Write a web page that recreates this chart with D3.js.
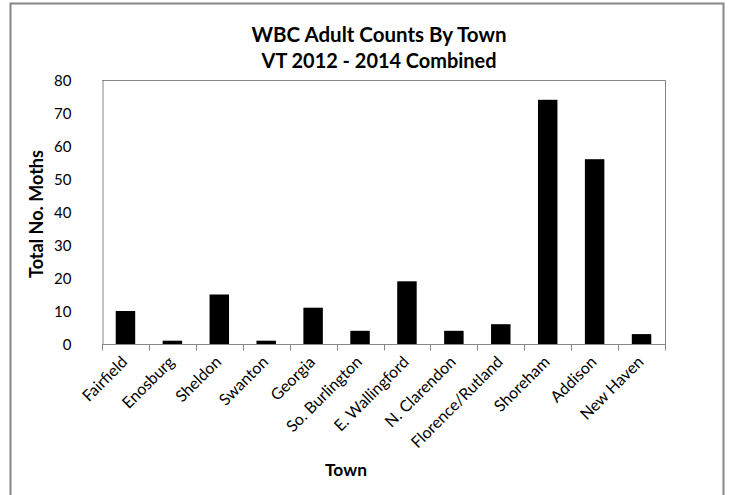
<!DOCTYPE html>
<html>
<head>
<meta charset="utf-8">
<script src="https://cdn.jsdelivr.net/npm/d3@7"></script>
<style>
  html, body { margin: 0; padding: 0; background: #fff; }
  svg { display: block; }
  text { font-family: "Lato", "Open Sans", "DejaVu Sans", sans-serif; fill: #000; }
</style>
</head>
<body>
<svg id="chart" width="730" height="495"></svg>
<script>
const towns = ["Fairfield", "Enosburg", "Sheldon", "Swanton", "Georgia", "So. Burlington",
  "E. Wallingford", "N. Clarendon", "Florence/Rutland", "Shoreham", "Addison", "New Haven"];
const moths = [10, 1, 15, 1, 11, 4, 19, 4, 6, 74, 56, 3];
const yTicks = [0, 10, 20, 30, 40, 50, 60, 70, 80];
const titleLines = ["WBC Adult Counts By Town", "VT 2012 - 2014 Combined"];
const xTitle = "Town";
const yTitle = "Total No. Moths";

const svg = d3.select("#chart");
const grey = "#868686";

// outer chart border
svg.append("rect")
  .attr("x", 10.5).attr("y", 3.5).attr("width", 713).attr("height", 500)
  .attr("fill", "none").attr("stroke", grey).attr("stroke-width", 2);

const plot = { left: 102, right: 665, top: 80, bottom: 344 };

const x = d3.scaleBand().domain(towns).range([plot.left, plot.right]).paddingInner(0.585).paddingOuter(0.2925);
const xb = d3.scaleBand().domain(towns).range([plot.left, plot.right]).padding(0);
const y = d3.scaleLinear().domain([0, 80]).range([plot.bottom, plot.top]);

// plot frame (top & right)
svg.append("path")
  .attr("d", `M${plot.left},${plot.top + 0.5}H${plot.right + 0.5}V${plot.bottom}`)
  .attr("fill", "none").attr("stroke", grey).attr("stroke-width", 1);

// bars
svg.append("g").selectAll("rect").data(moths).join("rect")
  .attr("x", (d, i) => x(towns[i]))
  .attr("width", x.bandwidth())
  .attr("y", d => y(d))
  .attr("height", d => y(0) - y(d))
  .attr("fill", "#000");

// y axis
const yAxis = d3.axisLeft(y).tickValues(yTicks).tickSize(0).tickPadding(30);
const gy = svg.append("g").attr("transform", `translate(${plot.left + 0.5},0)`).call(yAxis);
gy.select(".domain").attr("stroke", grey);
gy.selectAll("text").style("font-size", "15px").attr("x", -31).attr("dy", "0.35em");

// x axis: domain line + boundary ticks
const gx = svg.append("g").attr("transform", `translate(0,${plot.bottom + 0.5})`);
gx.append("line").attr("x1", plot.left).attr("x2", plot.right + 1).attr("stroke", grey);
const boundaries = towns.map(t => xb(t)).concat([plot.right]);
gx.selectAll("line.tick").data(boundaries).join("line").attr("class", "tick")
  .attr("x1", d => Math.round(d) + 0.5).attr("x2", d => Math.round(d) + 0.5)
  .attr("y1", 0).attr("y2", 6).attr("stroke", grey);

// x labels rotated
svg.append("g").selectAll("text").data(towns).join("text")
  .attr("transform", d => `translate(${xb(d) + xb.bandwidth() / 2 + 3},${plot.bottom + 19}) rotate(-45)`)
  .attr("text-anchor", "end")
  .style("font-size", "16px")
  .text(d => d);

// helper: fit text to width
function fit(sel, w) {
  const n = sel.node();
  const len = n.getComputedTextLength();
  const fs = parseFloat(sel.style("font-size"));
  sel.style("font-size", (fs * w / len) + "px");
}

// title
const tWidths = [255, 235];
const tY = [41.5, 68];
titleLines.forEach((t, i) => {
  const s = svg.append("text").attr("x", 379).attr("y", tY[i]).attr("text-anchor", "middle")
    .style("font-size", "22px").style("font-weight", "bold").text(t);
  fit(s, tWidths[i]);
});

// x title
const xt = svg.append("text").attr("x", 346).attr("y", 476).attr("text-anchor", "middle")
  .style("font-size", "17px").style("font-weight", "bold").text(xTitle);
fit(xt, 42);

// y title
const yt = svg.append("text").attr("transform", "translate(43,214) rotate(-90)")
  .attr("text-anchor", "middle").style("font-size", "17px").style("font-weight", "bold").text(yTitle);
fit(yt, 128);
</script>
</body>
</html>
